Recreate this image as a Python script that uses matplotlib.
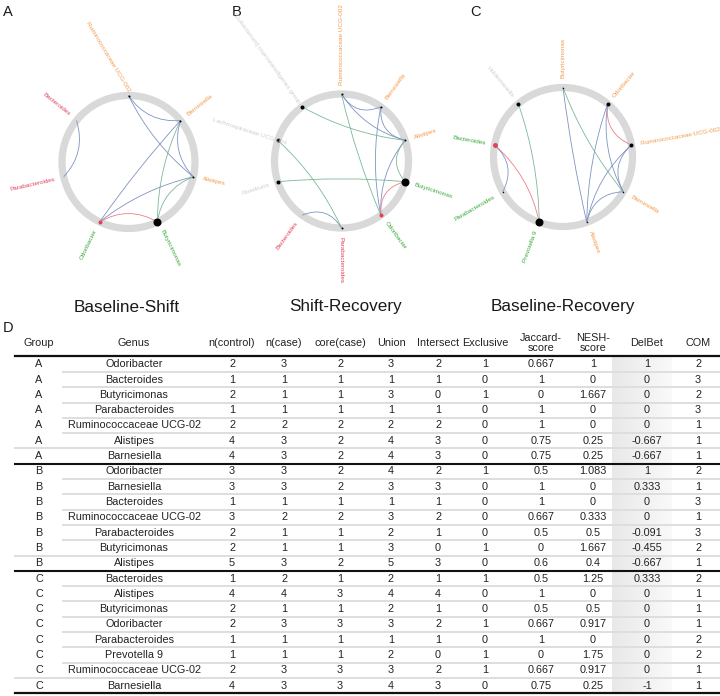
import numpy as np
import matplotlib
matplotlib.use("Agg")
import matplotlib.pyplot as plt
from matplotlib import font_manager
from matplotlib.patches import Circle, PathPatch
from matplotlib.path import Path

plt.rcParams['font.family'] = ['Liberation Sans', 'DejaVu Sans']

# narrow face for the panel titles, if it is there
try:
    font_manager.findfont('Liberation Sans Narrow', fallback_to_default=False)
    title_font, title_size = 'Liberation Sans Narrow', 14.8
except Exception:
    title_font, title_size = 'Liberation Sans', 12.3

# ---- network panels ----
orange, red, green, grey = '#f39a4c', '#e2435c', '#3aa83a', '#cfcfcf'
edge_cols = {'b': '#7f93c2', 'g': '#7cb896', 'r': '#ee7d86'}

a_nodes = ['Ruminococcaceae UCG-002', 'Barnesiella', 'Alistipes', 'Butyricimonas',
           'Odoribacter', 'Parabacteroides', 'Bacteroides']
a_colors = [orange, orange, orange, green, green, red, red]
a_sizes = [2, 2, 2, 8, 4, 0, 0]
a_dots = ['k', 'k', 'k', 'k', red, 'k', 'k']
a_edges = [(6, 5, 'b'), (0, 1, 'b'), (0, 2, 'b'), (1, 2, 'b'), (1, 4, 'b'),
           (1, 3, 'g'), (2, 4, 'b'), (2, 3, 'g'), (4, 3, 'r')]

b_nodes = ['Ruminococcaceae UCG-002', 'Barnesiella', 'Alistipes', 'Butyricimonas',
           'Odoribacter', 'Parabacteroides', 'Bacteroides', 'Roseburia',
           'Lachnospiraceae UCG-004', '[Eubacterium] coprostanoligenes group']
b_colors = [orange, orange, orange, green, green, red, red, grey, grey, grey]
b_sizes = [2, 2, 2, 8, 4, 2, 0, 4, 4, 4]
b_dots = ['k', 'k', 'k', 'k', red, 'k', 'k', 'k', 'k', 'k']
b_edges = [(0, 1, 'b'), (0, 2, 'b'), (0, 4, 'g'), (1, 2, 'b'), (1, 4, 'b'),
           (2, 3, 'g'), (2, 4, 'b'), (9, 2, 'g'), (8, 5, 'g'), (7, 3, 'g'),
           (6, 5, 'b'), (4, 3, 'r')]

c_nodes = ['Butyricimonas', 'Odoribacter', 'Ruminococcaceae UCG-002', 'Barnesiella',
           'Alistipes', 'Prevotella 9', 'Parabacteroides', 'Bacteroides', 'Holdemanella']
c_colors = [orange, orange, orange, orange, orange, green, green, green, grey]
c_sizes = [1.5, 4, 4, 1.5, 1.5, 8, 1.5, 5, 4]
c_dots = ['k', 'k', 'k', 'k', 'k', 'k', 'k', red, 'k']
c_edges = [(8, 5, 'g'), (7, 5, 'r'), (7, 6, 'b'), (0, 4, 'b'), (0, 3, 'g'),
           (1, 2, 'r'), (1, 4, 'b'), (1, 3, 'b'), (2, 4, 'b'), (2, 3, 'b'), (3, 4, 'b')]

titles = ['Baseline-Shift', 'Shift-Recovery', 'Baseline-Recovery']
letters = ['A', 'B', 'C']

# ---- table D ----
header = ['Group', 'Genus', 'n(control)', 'n(case)', 'core(case)', 'Union', 'Intersect',
          'Exclusive', 'Jaccard-\nscore', 'NESH-\nscore', 'DelBet', 'COM']
groups = ['A'] * 7 + ['B'] * 7 + ['C'] * 8
genus = ['Odoribacter', 'Bacteroides', 'Butyricimonas', 'Parabacteroides',
         'Ruminococcaceae UCG-02', 'Alistipes', 'Barnesiella',
         'Odoribacter', 'Barnesiella', 'Bacteroides', 'Ruminococcaceae UCG-02',
         'Parabacteroides', 'Butyricimonas', 'Alistipes',
         'Bacteroides', 'Alistipes', 'Butyricimonas', 'Odoribacter', 'Parabacteroides',
         'Prevotella 9', 'Ruminococcaceae UCG-02', 'Barnesiella']
n_control = [2, 1, 2, 1, 2, 4, 4, 3, 3, 1, 3, 2, 2, 5, 1, 4, 2, 2, 1, 1, 2, 4]
n_case = [3, 1, 1, 1, 2, 3, 3, 3, 3, 1, 2, 1, 1, 3, 2, 4, 1, 3, 1, 1, 3, 3]
core_case = [2, 1, 1, 1, 2, 2, 2, 2, 2, 1, 2, 1, 1, 2, 1, 3, 1, 3, 1, 1, 3, 3]
union = [3, 1, 3, 1, 2, 4, 4, 4, 3, 1, 3, 2, 3, 5, 2, 4, 2, 3, 1, 2, 3, 4]
intersect = [2, 1, 0, 1, 2, 3, 3, 2, 3, 1, 2, 1, 0, 3, 1, 4, 1, 2, 1, 0, 2, 3]
exclusive = [1, 0, 1, 0, 0, 0, 0, 1, 0, 0, 0, 0, 1, 0, 1, 0, 0, 1, 0, 1, 1, 0]
jaccard = ['0.667', '1', '0', '1', '1', '0.75', '0.75', '0.5', '1', '1', '0.667', '0.5',
           '0', '0.6', '0.5', '1', '0.5', '0.667', '1', '0', '0.667', '0.75']
nesh = ['1', '0', '1.667', '0', '0', '0.25', '0.25', '1.083', '0', '0', '0.333', '0.5',
        '1.667', '0.4', '1.25', '0', '0.5', '0.917', '0', '1.75', '0.917', '0.25']
delbet = ['1', '0', '0', '0', '0', '-0.667', '-0.667', '1', '0.333', '0', '0', '-0.091',
          '-0.455', '-0.667', '0.333', '0', '0', '0', '0', '0', '0', '-1']
com = [2, 3, 2, 3, 1, 1, 1, 2, 1, 3, 1, 3, 2, 1, 2, 1, 1, 1, 2, 2, 1, 1]

fig = plt.figure(figsize=(7.2, 6.96), dpi=100)
ax = fig.add_axes([0, 0, 1, 1])
ax.set_xlim(0, 720)
ax.set_ylim(696, 0)
ax.axis('off')


def draw_net(cx, cy, r, nodes, colors, sizes, dots, edges, special):
    n = len(nodes)
    ang = np.deg2rad(90 - np.arange(n) * 360.0 / n)
    px = cx + r * np.cos(ang)
    py = cy - r * np.sin(ang)
    ax.add_patch(Circle((cx, cy), r, fill=False, ec='#d9d9d9', lw=5.2, zorder=1))
    for i, j, c in edges:
        mx, my = (px[i] + px[j]) / 2, (py[i] + py[j]) / 2
        ctrl = (cx + 0.72 * (mx - cx), cy + 0.72 * (my - cy))
        path = Path([(px[i], py[i]), ctrl, (px[j], py[j])],
                    [Path.MOVETO, Path.CURVE3, Path.CURVE3])
        ax.add_patch(PathPatch(path, fc='none', ec=edge_cols[c], lw=0.6, zorder=2))
    for k in range(n):
        if sizes[k] > 0:
            ax.scatter(px[k], py[k], s=(sizes[k] * 0.72) ** 2, c=dots[k], lw=0, zorder=3)
        deg = np.rad2deg(ang[k])
        rr = r + 9
        if k in special:
            rr, rot, ha = special[k]
        elif np.cos(ang[k]) > -1e-6:
            rot, ha = deg, 'left'
        else:
            rot, ha = deg - 180, 'right'
        tx = cx + rr * np.cos(ang[k])
        ty = cy - rr * np.sin(ang[k])
        ax.text(tx, ty, nodes[k], color=colors[k], fontsize=4.6, rotation=rot,
                rotation_mode='anchor', ha=ha, va='center', zorder=4)


draw_net(128.5, 162, 66.5, a_nodes, a_colors, a_sizes, a_dots, a_edges,
         {0: (70, -59, 'right')})
draw_net(341.5, 161, 67, b_nodes, b_colors, b_sizes, b_dots, b_edges,
         {8: (58, -18, 'right'), 9: (72, -54, 'right')})
draw_net(563, 157, 69.5, c_nodes, c_colors, c_sizes, c_dots, c_edges, {})

for x, t in zip([127, 346, 563], titles):
    ax.text(x, 307, t, fontsize=title_size, family=title_font, ha='center',
            va='center', color='#1a1a1a')
for x, l in zip([3, 232, 470], letters):
    ax.text(x, 12, l, fontsize=10.5, ha='left', va='center', color='#1a1a1a')
ax.text(3, 328, 'D', fontsize=10.5, ha='left', va='center', color='#1a1a1a')

# table
col_x = [39, 134, 232, 284, 340, 391, 438, 485, 541, 593, 647, 698]
row0, pitch = 364.3, 15.3
nrow = len(genus)
ys = row0 + pitch * np.arange(nrow)
top, bot = row0 - pitch / 2 - 0.3, row0 + pitch * (nrow - 0.5)

grad = np.linspace(0.91, 0.975, 50)[None, :]
ax.imshow(np.repeat(grad, 2, axis=0), cmap='gray', vmin=0, vmax=1, aspect='auto',
          extent=(612, 672, bot, top), zorder=0)
ax.set_xlim(0, 720)
ax.set_ylim(696, 0)

for x, h in zip(col_x, header):
    ax.text(x, 343, h, fontsize=7.8, ha='center', va='center', linespacing=1.05,
            color='#222222')

cols = [groups, genus, n_control, n_case, core_case, union, intersect, exclusive,
        jaccard, nesh, delbet, com]
for ci, col in enumerate(cols):
    for ri, v in enumerate(col):
        ax.text(col_x[ci], ys[ri], str(v), fontsize=7.8, ha='center', va='center',
                color='#222222')

for ri in range(nrow - 1):
    y = ys[ri] + pitch / 2
    if groups[ri] != groups[ri + 1]:
        ax.plot([15, 720], [y, y], color='#111111', lw=1.5, zorder=3)
    else:
        last = ri + 2 == nrow or groups[ri + 2] != groups[ri + 1]
        ax.plot([15 if last else 63, 720], [y, y], color='#dedede', lw=1.4, zorder=1)
ax.plot([15, 720], [top, top], color='#111111', lw=1.6)
ax.plot([15, 720], [bot, bot], color='#111111', lw=1.6)

fig.savefig('out.png', dpi=100)
